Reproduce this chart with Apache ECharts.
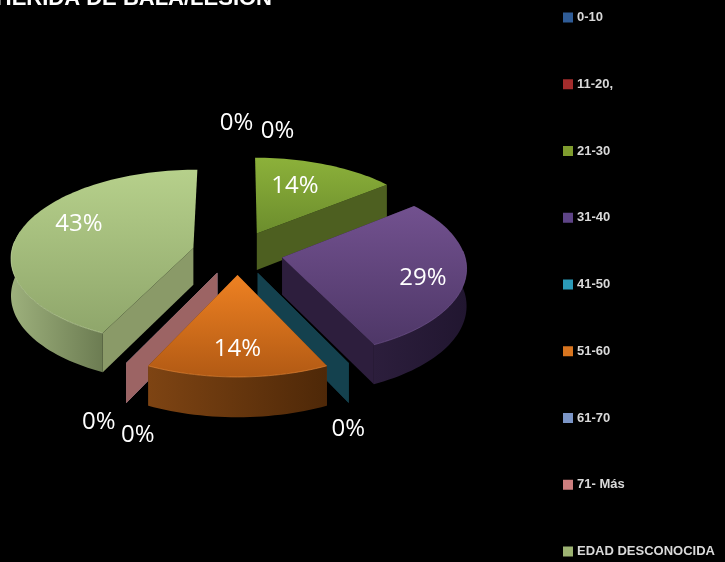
<!DOCTYPE html>
<html>
<head>
<meta charset="utf-8">
<style>
  html, body { margin: 0; padding: 0; background: #000; }
  #main { width: 725px; height: 562px; filter: blur(0.5px); }
</style>
<script src="https://cdn.jsdelivr.net/npm/echarts@6/dist/echarts.min.js"></script>
</head>
<body>
<div id="main"></div>
<script>
// data
const categories = ['0-10', '11-20,', '21-30', '31-40', '41-50', '51-60', '61-70', '71- Más', 'EDAD DESCONOCIDA'];
const counts = [0, 0, 1, 2, 0, 1, 0, 0, 3];
const titleText = 'HERIDA DE BALA/LESION';

// colours: legend swatch, top of slice (from/to), cut face, outer wall (from/to), rim
const swatchColors = ['#2f5c97', '#a32c2c', '#7f9c2e', '#5e4487', '#2b9ab8', '#d8751f', '#7b95c6', '#cd7f7f', '#9db372'];
const topColors = [['#3a6ea8', '#3a6ea8'], ['#a83a38', '#a83a38'], ['#8cb13a', '#6c8d2d'], ['#72518f', '#4e3767'], ['#1f5a6b', '#1f5a6b'], ['#ee8122', '#b25a14'], ['#7b95c6', '#7b95c6'], ['#a06666', '#a06666'], ['#b6d08b', '#8fa66b']];
const faceColors = ['#2f5c97', '#a32c2c', '#4d5f20', '#2d1e3d', '#14414e', '#5d3210', '#6d80a6', '#9c6464', '#8a9a68'];
const wallColors = [['#333', '#333'], ['#333', '#333'], ['#4d5f20', '#4d5f20'], ['#2c1e3c', '#211630'], ['#14414e', '#14414e'], ['#7e4413', '#4e2808'], ['#333', '#333'], ['#333', '#333'], ['#9db07c', '#6c7c52']];
const rimColors = ['#3a6ea8', '#a83a38', '#9dbd55', '#7a5a99', '#14414e', '#e98a38', '#7b95c6', '#a06666', '#c8dca6'];

// projection of the tilted pie
const cx = 237.5, cy = 252.7;
const radiusX = 182, radiusY = 87, persp = 0.1, explode = 0.25, depth = 37;
// label anchor is at labelRadius along the slice middle, then shifted by labelNudge
const labelRadius = 0.75;
const labelNudge = [[-1, -50], [40, -42], [-15, 5], [4, 6], [24, 90], [0, 0], [-52, 83], [-13, 96], [15, -10]];

const total = counts.reduce((a, b) => a + b, 0);
const toRad = (v) => (v / total) * Math.PI * 2;

// start and end angle of every slice, clockwise from 12 o'clock
let running = 0;
const angles = counts.map((v) => {
  const a0 = running;
  running += toRad(v);
  return [a0, running];
});

function project(x, y, down) {
  const d = 1 + persp * y;
  const h = down ? depth * (1 - 0.07 * y) : 0;
  return [cx + (radiusX * x) / d, cy - (radiusY * y) / d + h];
}

function arcPoints(a0, a1, ox, oy, down) {
  const pts = [];
  const steps = Math.max(1, Math.ceil((a1 - a0) / 0.03));
  for (let i = 0; i <= steps; i++) {
    const a = a0 + ((a1 - a0) * i) / steps;
    pts.push(project(ox + Math.sin(a), oy + Math.cos(a), down));
  }
  return pts;
}

const vGrad = (c) => new echarts.graphic.LinearGradient(0, 0, 0, 1, [{ offset: 0, color: c[0] }, { offset: 1, color: c[1] }]);
const hGrad = (c) => new echarts.graphic.LinearGradient(0, 0, 1, 0, [{ offset: 0, color: c[0] }, { offset: 1, color: c[1] }]);

function drawSlice(idx) {
  const [a0, a1] = angles[idx];
  const mid = (a0 + a1) / 2;
  const ox = explode * Math.sin(mid);
  const oy = explode * Math.cos(mid);
  const children = [];

  // the two cut faces, also all that a zero slice has. Faces at 12 o'clock are edge-on.
  [a0, a1].forEach((a) => {
    const rimX = ox + Math.sin(a), rimY = oy + Math.cos(a);
    if (Math.abs(Math.sin(a)) < 0.05) return;
    children.push({
      type: 'polygon',
      shape: { points: [project(ox, oy, false), project(rimX, rimY, false), project(rimX, rimY, true), project(ox, oy, true)] },
      style: { fill: faceColors[idx] }
    });
  });

  if (counts[idx] > 0) {
    const topArc = arcPoints(a0, a1, ox, oy, false);
    const lowArc = arcPoints(a0, a1, ox, oy, true);
    const angleAt = (i) => a0 + ((a1 - a0) * i) / (topArc.length - 1);
    // outer wall, only the part that faces the viewer
    const wallTop = topArc.filter((p, i) => Math.cos(angleAt(i)) < 0.2);
    const wallLow = lowArc.filter((p, i) => Math.cos(angleAt(i)) < 0.2);
    if (wallTop.length > 1) {
      children.push({
        type: 'polygon',
        shape: { points: wallTop.concat(wallLow.slice().reverse()) },
        style: { fill: hGrad(wallColors[idx]) }
      });
    }
    // top of the slice
    children.push({
      type: 'polygon',
      shape: { points: [project(ox, oy, false)].concat(topArc) },
      style: { fill: vGrad(topColors[idx]) }
    });
    // lit edge where top meets wall
    const nearRim = topArc.filter((p, i) => Math.cos(angleAt(i)) < 0.1);
    children.push({
      type: 'polyline',
      shape: { points: nearRim },
      style: { fill: null, stroke: rimColors[idx], lineWidth: 1, opacity: 0.6 }
    });
  }

  // percent label
  const lx = ox + labelRadius * Math.sin(mid);
  const ly = oy + labelRadius * Math.cos(mid);
  const anchor = project(lx, ly, false);
  children.push({
    type: 'text',
    z2: 50,
    style: {
      text: Math.round((counts[idx] / total) * 100) + '%',
      x: anchor[0] + labelNudge[idx][0],
      y: anchor[1] + labelNudge[idx][1],
      fill: '#ffffff',
      font: '24px "Open Sans"',
      align: 'center',
      verticalAlign: 'middle'
    }
  });
  return { type: 'group', children };
}

const series = categories.map((name, idx) => ({
  type: 'custom',
  name,
  coordinateSystem: 'none',
  silent: true,
  animation: false,
  // slices nearer the viewer are painted later
  z: 3 - Math.cos((angles[idx][0] + angles[idx][1]) / 2),
  itemStyle: { color: swatchColors[idx] },
  data: [counts[idx]],
  renderItem: () => drawSlice(idx)
}));

const myChart = echarts.init(document.getElementById('main'));
myChart.setOption({
  backgroundColor: '#000000',
  animation: false,
  title: {
    text: titleText,
    right: 453,
    top: -12,
    padding: 0,
    textStyle: { color: '#ffffff', fontFamily: 'Liberation Sans', fontWeight: 'bold', fontSize: 22 }
  },
  legend: {
    orient: 'vertical',
    left: 563,
    top: 11,
    padding: 0,
    itemWidth: 10,
    itemHeight: 10,
    itemGap: 53.75,
    icon: 'rect',
    selectedMode: false,
    data: categories,
    textStyle: { color: '#d9d9d9', fontFamily: 'Liberation Sans', fontWeight: 'bold', fontSize: 13, padding: [0, 0, 0, -1] }
  },
  series
});
</script>
</body>
</html>
